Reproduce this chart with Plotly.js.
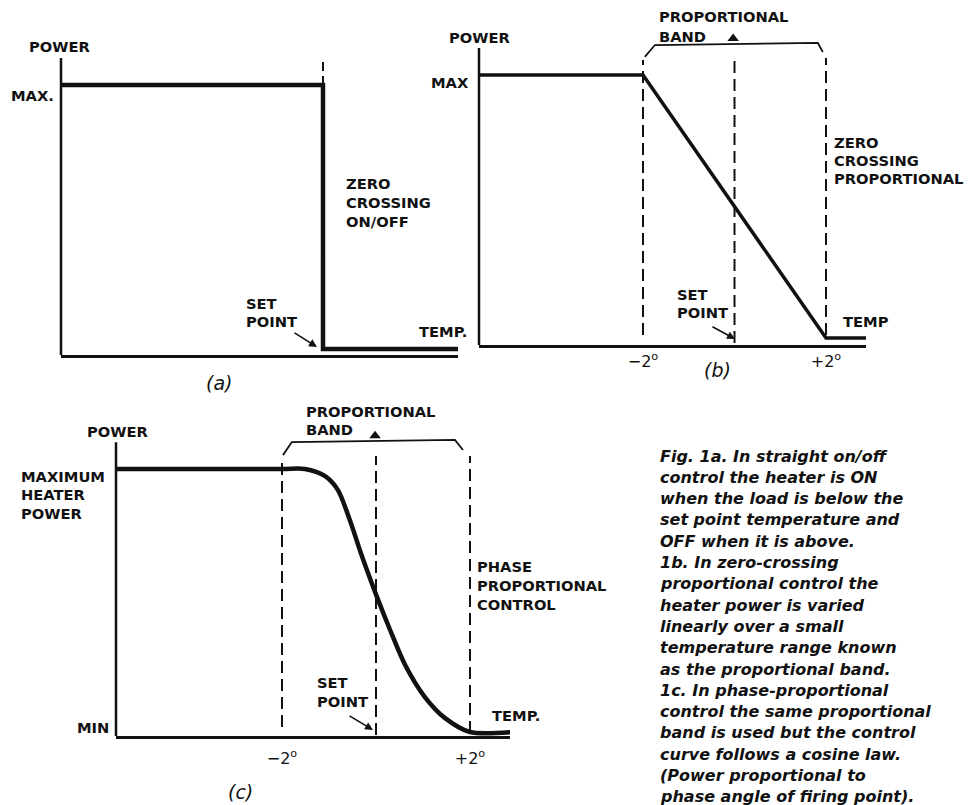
<!DOCTYPE html>
<html><head><meta charset="utf-8">
<script src="https://cdn.plot.ly/plotly-3.0.1.min.js"></script>
<style>html,body{margin:0;padding:0;background:#fff}</style>
</head><body><div id="chart" style="width:975px;height:805px"></div>
<script>
// ---- data (temperature relative to set point, degrees; power as fraction of max) ----
// (a) zero crossing on/off
const tempA  = [-5.6, 0, 0, 2.9];
const powerA = [1, 1, 0.022, 0.022];
const dashTempA = [0, 0];
const dashPowA  = [1.0, 1.10];
// (b) zero crossing proportional
const tempB  = [-5.6, -2, 2, 2.9];
const powerB = [1, 1, 0.026, 0.026];
// (c) phase proportional (cosine law)
const tempC  = [-5.6, -2, -1.51, -1.09, -0.81, -0.55, -0.30, 0.02, 0.30, 0.62, 1.04, 1.47, 2.0, 2.9];
const powerC = [1, 1, 1, 0.974, 0.921, 0.805, 0.674, 0.521, 0.397, 0.266, 0.146, 0.067, 0.015, 0.015];
// proportional band markers
const bandTemps = [-2, 0, 2];
const dashTopB = [1.056, 1.067, 1.063];
const dashBotB = [0.037, 0.007, 0.037];
const dashTopC = [1.045, 1.049, 1.049];
const dashBotC = [0.034, 0.004, 0.011];
const bracketTempB = [-1.96, -1.74, 1.82, 1.93];
const bracketPowB  = [1.067, 1.111, 1.119, 1.085];
const bracketTempC = [-1.98, -1.79, 1.68, 1.85];
const bracketPowC  = [1.052, 1.101, 1.109, 1.071];
const apexB = [[-0.03], [1.135]];
const apexC = [[-0.02], [1.125]];
// tick labels
const tickVals = [-2, 2];
const tickText = ['\u22122<sup>o</sup>', '+2<sup>o</sup>'];
const captionLines = [
  "Fig. 1a. In straight on/off",
  "control the heater is ON",
  "when the load is below the",
  "set point temperature and",
  "OFF when it is above.",
  "1b. In zero-crossing",
  "proportional control the",
  "heater power is varied",
  "linearly over a small",
  "temperature range known",
  "as the proportional band.",
  "1c. In phase-proportional",
  "control the same proportional",
  "band is used but the control",
  "curve follows a cosine law.",
  "(Power proportional to",
  "phase angle of firing point)."
];

// ---- helpers ----
const INK = '#111';
function X(p){ return p/975; }
function Y(p){ return 1 - p/805; }

const traces = [];
function line(x, y, xa, ya, w, dash, shape){
  traces.push({type:'scatter', mode:'lines', x:x, y:y, xaxis:xa, yaxis:ya,
    line:{color:INK, width:w, dash:dash||'solid', shape:shape||'linear', smoothing:0.8},
    hoverinfo:'skip', showlegend:false});
}
// panel a
line(tempA, powerA, 'x', 'y', 4.5);
line(dashTempA, dashPowA, 'x', 'y', 2, '9px,5px');
// panel b
line(tempB, powerB, 'x2', 'y2', 3.5);
bandTemps.forEach((t,i)=> line([t,t],[dashBotB[i],dashTopB[i]],'x2','y2',2,'12px,6px'));
line(bracketTempB, bracketPowB, 'x2', 'y2', 1.8);
traces.push({type:'scatter', mode:'markers', x:apexB[0], y:apexB[1], xaxis:'x2', yaxis:'y2',
  marker:{symbol:'triangle-up', size:10, color:INK}, hoverinfo:'skip', showlegend:false});
// panel c
line(tempC, powerC, 'x3', 'y3', 4.5, 'solid', 'spline');
bandTemps.forEach((t,i)=> line([t,t],[dashBotC[i],dashTopC[i]],'x3','y3',2,'12px,6px'));
line(bracketTempC, bracketPowC, 'x3', 'y3', 1.8);
traces.push({type:'scatter', mode:'markers', x:apexC[0], y:apexC[1], xaxis:'x3', yaxis:'y3',
  marker:{symbol:'triangle-up', size:10, color:INK}, hoverinfo:'skip', showlegend:false});

// ---- annotations ----
const LBL = {family:'DejaVu Sans', size:14.7, color:INK, weight:'bold'};
const CAP = {family:'DejaVu Sans', size:16, color:INK, weight:'bold', style:'italic'};
const LET = {family:'DejaVu Sans', size:19, color:INK, style:'italic'};
const ann = [];
function label(lines, xpx, ypx, dy, font){
  lines.forEach((t,i)=> ann.push({xref:'paper', yref:'paper', x:X(xpx), y:Y(ypx + i*dy),
    text:t, showarrow:false, xanchor:'left', yanchor:'middle', font:font}));
}
function arrow(hx, hy, ax, ay){
  ann.push({xref:'paper', yref:'paper', x:X(hx), y:Y(hy), ax:ax, ay:ay, text:'',
    showarrow:true, arrowhead:2, arrowsize:1, arrowwidth:1.6, arrowcolor:INK});
}
function letter(t, cx, cy){
  ann.push({xref:'paper', yref:'paper', x:X(cx), y:Y(cy), text:t, showarrow:false,
    xanchor:'center', yanchor:'middle', font:LET});
}
// (a)
label(['POWER'], 27, 46, 0, LBL);
label(['MAX.'], 9, 95, 0, LBL);
label(['ZERO','CROSSING','ON/OFF'], 344, 184, 18.5, LBL);
label(['SET','POINT'], 244, 303, 18.5, LBL);
label(['TEMP.'], 417, 331, 0, LBL);
arrow(317, 347, -24, -15);
letter('(a)', 219, 383);
// (b)
label(['POWER'], 447, 37, 0, LBL);
label(['MAX'], 429, 82, 0, LBL);
label(['PROPORTIONAL','BAND'], 657, 17, 19, LBL);
label(['ZERO','CROSSING','PROPORTIONAL'], 832, 143, 18, LBL);
label(['SET','POINT'], 675, 294, 18.5, LBL);
label(['TEMP'], 841, 321, 0, LBL);
arrow(735, 339, -24, -13);
letter('(b)', 717, 370);
// (c)
label(['POWER'], 85, 432, 0, LBL);
label(['MAXIMUM','HEATER','POWER'], 19, 476, 18.6, LBL);
label(['MIN'], 75, 727, 0, LBL);
label(['PROPORTIONAL','BAND'], 304, 411, 18.5, LBL);
label(['PHASE','PROPORTIONAL','CONTROL'], 475, 566, 19, LBL);
label(['SET','POINT'], 315, 682, 19, LBL);
label(['TEMP.'], 490, 715, 0, LBL);
arrow(373, 730, -25, -15);
letter('(c)', 240, 792);
// caption
label(captionLines, 658, 456, 21.3, CAP);

// ---- axes ----
const base = {showgrid:false, zeroline:false, ticks:'', fixedrange:true, showticklabels:false};
const xBase = Object.assign({}, base, {showline:true, linewidth:2.5, linecolor:INK});
const tickFont = {family:'DejaVu Sans', size:16, color:INK};
const layout = {
  width:975, height:805, margin:{l:0, r:0, t:0, b:0},
  paper_bgcolor:'#ffffff', plot_bgcolor:'rgba(0,0,0,0)',
  showlegend:false, hovermode:false,
  xaxis:  Object.assign({}, xBase, {domain:[X(61),  X(458)], range:[-5.574, 2.872], anchor:'y'}),
  yaxis:  Object.assign({}, base,  {domain:[Y(355), Y(17.5)], range:[0, 1.25], anchor:'x'}),
  xaxis2: Object.assign({}, xBase, {domain:[X(479), X(866)], range:[-5.585, 2.874], anchor:'y2',
           showticklabels:true, tickmode:'array', tickvals:tickVals, ticktext:tickText, tickfont:tickFont}),
  yaxis2: Object.assign({}, base,  {domain:[Y(345), Y(7.5)], range:[0, 1.25], anchor:'x2'}),
  xaxis3: Object.assign({}, xBase, {domain:[X(116), X(510)], range:[-5.532, 2.851], anchor:'y3',
           showticklabels:true, tickmode:'array', tickvals:tickVals, ticktext:tickText, tickfont:tickFont,
           ticklabelstandoff:6}),
  yaxis3: Object.assign({}, base,  {domain:[Y(736), Y(402.25)], range:[0, 1.25], anchor:'x3'}),
  shapes: [
    {type:'line', xref:'x domain',  yref:'y',  x0:0, x1:0, y0:-0.01, y1:1.10, line:{color:INK, width:2.5}},
    {type:'line', xref:'x2 domain', yref:'y2', x0:0, x1:0, y0:-0.01, y1:1.10, line:{color:INK, width:2.5}},
    {type:'line', xref:'x3 domain', yref:'y3', x0:0, x1:0, y0:-0.01, y1:1.10, line:{color:INK, width:2.5}}
  ],
  annotations: ann
};
Plotly.newPlot('chart', traces, layout, {staticPlot:true, displayModeBar:false});
</script>
</body></html>
